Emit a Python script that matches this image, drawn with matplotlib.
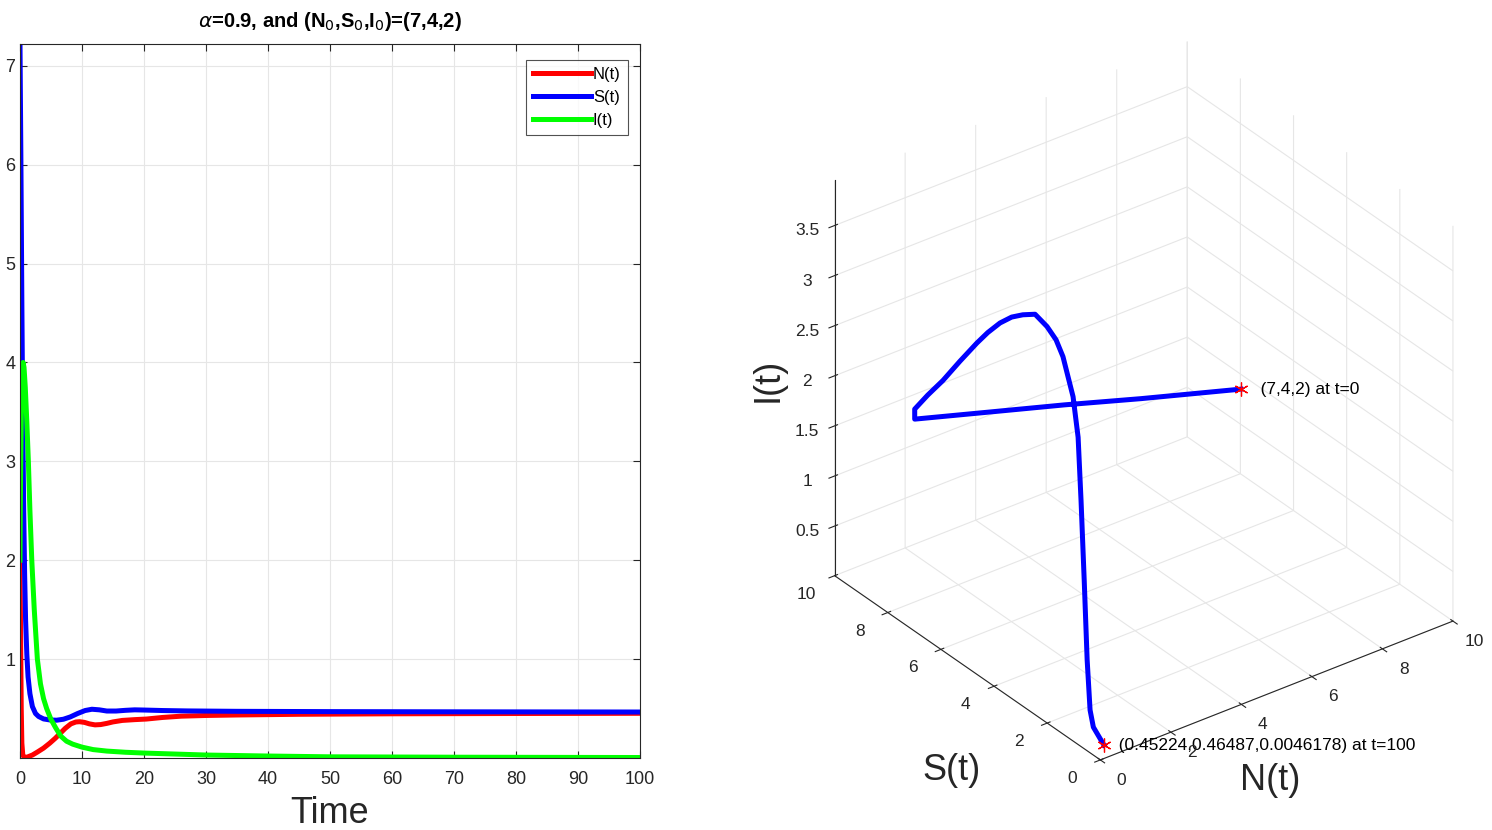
import numpy as np
import matplotlib.pyplot as plt
from matplotlib.ticker import FormatStrFormatter

plt.rcParams['font.family'] = ['Liberation Sans', 'DejaVu Sans']

# left panel: time series
t_N = [0, 0.1, 0.2, 0.3, 0.45, 0.7, 1.2, 2.0, 2.8, 3.8, 4.8, 5.7, 6.5, 7.3, 8.2, 9.0, 9.6,
       10.4, 11.2, 12.1, 13, 14, 15, 16.5, 18.5, 20.4, 23, 26, 30, 35, 45, 60, 80, 100]
N_vals = [2.0, 1.2, 0.5, 0.15, 0.03, 0.005, 0.01, 0.03, 0.06, 0.10, 0.15, 0.2, 0.25, 0.3,
          0.345, 0.364, 0.367, 0.36, 0.345, 0.335, 0.338, 0.35, 0.365, 0.38, 0.388, 0.394,
          0.41, 0.423, 0.43, 0.435, 0.442, 0.447, 0.45, 0.452]

t_S = [0, 0.15, 0.3, 0.45, 0.6, 0.75, 0.9, 1.1, 1.3, 1.6, 2.0, 2.5, 3.0, 3.8, 4.8, 5.9, 7.0,
       8.1, 9.3, 10.5, 11.6, 12.8, 14.0, 15.5, 17, 18.5, 20, 23, 27, 35, 50, 70, 100]
S_vals = [7.22, 6.0, 4.6, 3.4, 2.5, 1.85, 1.4, 1.05, 0.82, 0.65, 0.52, 0.45, 0.42, 0.395,
          0.385, 0.382, 0.392, 0.415, 0.45, 0.48, 0.493, 0.487, 0.475, 0.475, 0.482, 0.487,
          0.485, 0.48, 0.476, 0.472, 0.469, 0.467, 0.465]

t_I = [0, 0.05, 0.12, 0.22, 0.35, 0.5, 0.65, 0.85, 1.1, 1.35, 1.6, 1.9, 2.3, 2.8, 3.3, 3.8,
       4.3, 5.0, 5.8, 6.6, 7.5, 8.5, 10, 11.8, 14, 17, 20, 25, 30, 40, 50, 70, 100]
I_vals = [2.0, 2.5, 3.0, 3.5, 3.85, 4.0, 3.95, 3.75, 3.4, 3.0, 2.5, 2.0, 1.5, 1.0, 0.75, 0.6,
          0.5, 0.39, 0.3, 0.22, 0.17, 0.14, 0.11, 0.085, 0.07, 0.058, 0.05, 0.04, 0.03, 0.02,
          0.012, 0.008, 0.005]

# right panel: 3-D trajectory (N, S, I)
N3 = [7.0, 5.0, 3.5, 2.0, 0.5, 0.5, 0.5, 0.5, 0.5, 0.5, 0.5, 0.5, 0.5, 0.5, 0.5, 0.5,
      0.5, 0.5, 0.5, 0.5, 0.5, 0.5, 0.5, 0.5, 0.48, 0.452]
S3 = [4.0, 5.1, 6.0, 6.8, 7.65, 7.65, 7.16, 6.59, 5.95, 5.31, 4.90, 4.44, 4.0, 3.58, 3.12,
      2.67, 2.33, 2.07, 1.69, 1.50, 1.39, 1.27, 1.16, 1.05, 0.9, 0.465]
I3 = [2.0, 1.98, 1.96, 1.95, 1.93, 2.03, 2.26, 2.51, 2.82, 3.12, 3.30, 3.48, 3.62, 3.72, 3.81,
      3.77, 3.70, 3.58, 3.25, 2.88, 2.27, 1.49, 0.72, 0.24, 0.10, 0.0046]
start_pt = (7, 4, 2)
end_pt = (0.45224, 0.46487, 0.0046178)
ns_ticks = [0, 2, 4, 6, 8, 10]
i_ticks = [0.5, 1, 1.5, 2, 2.5, 3, 3.5]

fig = plt.figure(figsize=(14.92, 8.30), dpi=100)
dark = '#262626'

# ---- left: time series ----
ax = fig.add_axes([20/1492, 1 - 758/830, 620/1492, 714/830])
ax.plot(t_N, N_vals, color='#ff0000', lw=3.6, label='N(t)')
ax.plot(t_S, S_vals, color='#0000ff', lw=3.6, label='S(t)')
ax.plot(t_I, I_vals, color='#00ff00', lw=3.6, label='I(t)')
ax.set_xlim(0, 100)
ax.set_ylim(0, 7.22)
ax.set_xticks(range(0, 101, 10))
ax.set_yticks(range(1, 8))
ax.grid(True, color='#e6e6e6', lw=0.8)
ax.tick_params(direction='in', top=True, right=True, labelsize=13, colors=dark, length=5)
ax.tick_params(axis='x', pad=9)
for sp in ax.spines.values():
    sp.set_color(dark)
    sp.set_linewidth(0.8)
ax.set_xlabel('Time', fontsize=26, color=dark, labelpad=6)
ax.set_title(r'$\alpha$=0.9, and (N$_0$,S$_0$,I$_0$)=(7,4,2)', fontsize=14.5,
             fontweight='bold', pad=12)
leg = ax.legend(loc='upper right', bbox_to_anchor=(0.981, 0.978), fontsize=12,
                handlelength=3.45, handletextpad=0.12, borderaxespad=0.0, fancybox=False,
                edgecolor=dark, borderpad=0.45, labelspacing=0.46)
leg.get_frame().set_linewidth(0.8)

# ---- right: 3-D trajectory ----
ax3 = fig.add_axes([0.5304, 0.006, 0.46, 1.0], projection='3d')
ax3.set_proj_type('ortho')
ax3.view_init(elev=31.5, azim=-127)
ax3.set_box_aspect((1, 1, 1.05), zoom=1.10)
ax3.plot(N3, S3, I3, color='#0000ff', lw=3.6)
star = dict(marker=(6, 2, 0), color='red', ms=10, mew=0.9, ls='none')
ax3.plot([start_pt[0]], [start_pt[1]], [start_pt[2]], **star)
ax3.plot([end_pt[0]], [end_pt[1]], [end_pt[2]], **star)
ax3.text(start_pt[0], start_pt[1], start_pt[2], '    (7,4,2) at t=0', fontsize=12.5, va='center')
ax3.text(end_pt[0], end_pt[1], end_pt[2],
         '   ({:g},{:g},{:g}) at t=100'.format(*end_pt), fontsize=12.5, va='center')
ax3.set_xlim(0, 10)
ax3.set_ylim(0, 10)
ax3.set_zlim(0.0046, 3.95)
ax3.set_xticks(ns_ticks)
ax3.set_yticks(ns_ticks)
ax3.set_zticks(i_ticks)
ax3.zaxis.set_major_formatter(FormatStrFormatter('%g'))
for a in (ax3.xaxis, ax3.yaxis, ax3.zaxis):
    a.pane.set_facecolor('white')
    a.pane.set_edgecolor('white')
    a.pane.fill = False
    a._axinfo['grid']['color'] = '#e6e6e6'
    a._axinfo['grid']['linewidth'] = 0.8
    a.line.set_color(dark)
    a.label.set_visible(False)
    a.offsetText.set_visible(False)
ax3.tick_params(labelsize=12.5, colors=dark)
ax3.tick_params(axis='x', labelbottom=False)
ax3.tick_params(axis='y', labelleft=False)

# N and S tick labels placed just outside their axis edges (MATLAB style)
for v in ns_ticks:
    ax3.text(v, -0.8, -0.05, str(v), fontsize=12.5, color=dark, ha='center', va='center')
    ax3.text(-0.8, v, -0.07, str(v), fontsize=12.5, color=dark, ha='center', va='center')

fig.text(1270/1492, 1 - 780/830, 'N(t)', fontsize=26, color=dark, ha='center', va='center')
fig.text(952/1492, 1 - 770/830, 'S(t)', fontsize=26, color=dark, ha='center', va='center')
fig.text(768/1492, 1 - 380/830, 'I(t)', fontsize=26, color=dark, ha='center', va='center', rotation=90)

fig.savefig('out.png', dpi=100)
